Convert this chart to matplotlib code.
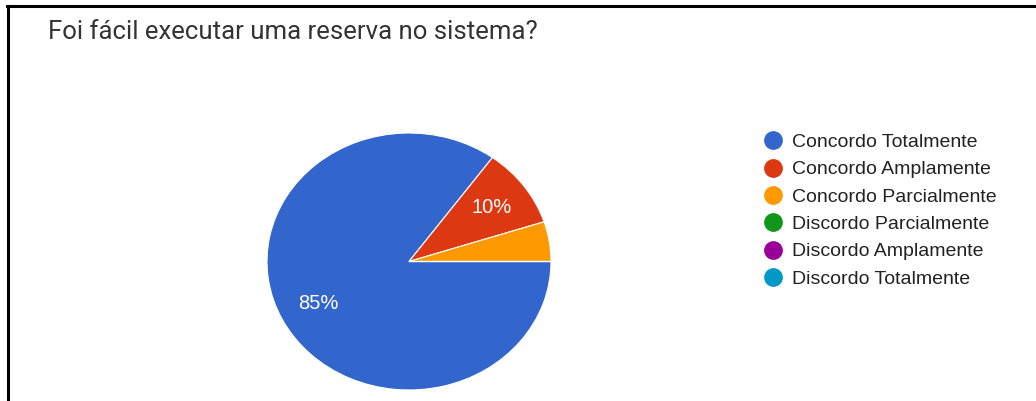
import numpy as np
import matplotlib.pyplot as plt
from matplotlib.lines import Line2D

# survey answers (percent of responses)
categories = ["Concordo Totalmente", "Concordo Amplamente", "Concordo Parcialmente",
              "Discordo Parcialmente", "Discordo Amplamente", "Discordo Totalmente"]
values = [85, 10, 5, 0, 0, 0]
colors = ["#3366cc", "#dc3912", "#ff9900", "#109618", "#990099", "#0099c6"]
title = "Foi fácil executar uma reserva no sistema?"

W, H = 1036, 401
fig = plt.figure(figsize=(W / 100, H / 100), dpi=100)
fig.patch.set_facecolor("white")

# pie axes (slightly wider than tall, like the screenshot)
ax = fig.add_axes([267 / W, 11 / H, 284 / W, 257 / H])
wedges, _ = ax.pie(values, colors=colors, startangle=0, counterclock=False,
                   radius=1.0, wedgeprops=dict(edgecolor="white", linewidth=0.8))
ax.set_aspect("auto")
ax.set_xlim(-1, 1)
ax.set_ylim(-1, 1)
ax.axis("off")

# percentage labels, small slices are left unlabeled
total = sum(values)
for w, v in zip(wedges, values):
    if v / total < 0.08:
        continue
    ang = np.deg2rad((w.theta1 + w.theta2) / 2)
    r = 0.72
    ax.text(r * np.cos(ang), r * np.sin(ang), f"{v}%", ha="center", va="center",
            color="white", fontsize=14.5, family="Liberation Sans")

# legend
fs = 14
handles = [Line2D([], [], marker="o", linestyle="", markersize=12.5,
                  markerfacecolor=c, markeredgecolor=c) for c in colors]
leg = fig.legend(handles, categories, loc="upper left",
                 bbox_to_anchor=(763.3 / W, 1 - 133.5 / H), frameon=False,
                 borderpad=0, borderaxespad=0, handlelength=1.0, handletextpad=0.48,
                 labelspacing=0.50, prop=dict(family="Liberation Sans", size=fs))
for t in leg.get_texts():
    t.set_color("#222222")

fig.text(48 / W, 1 - 32 / H, title, ha="left", va="center", fontsize=18.5,
         family="Roboto", color="#333333")

# black frame on the top and left edges
fig.add_artist(Line2D([8 / W, 8 / W], [0, 1 - 6 / H], transform=fig.transFigure,
                      color="black", linewidth=2.2))
fig.add_artist(Line2D([7 / W, 1], [1 - 6 / H, 1 - 6 / H], transform=fig.transFigure,
                      color="black", linewidth=2.2))

fig.savefig("out.png", dpi=100, facecolor="white")
